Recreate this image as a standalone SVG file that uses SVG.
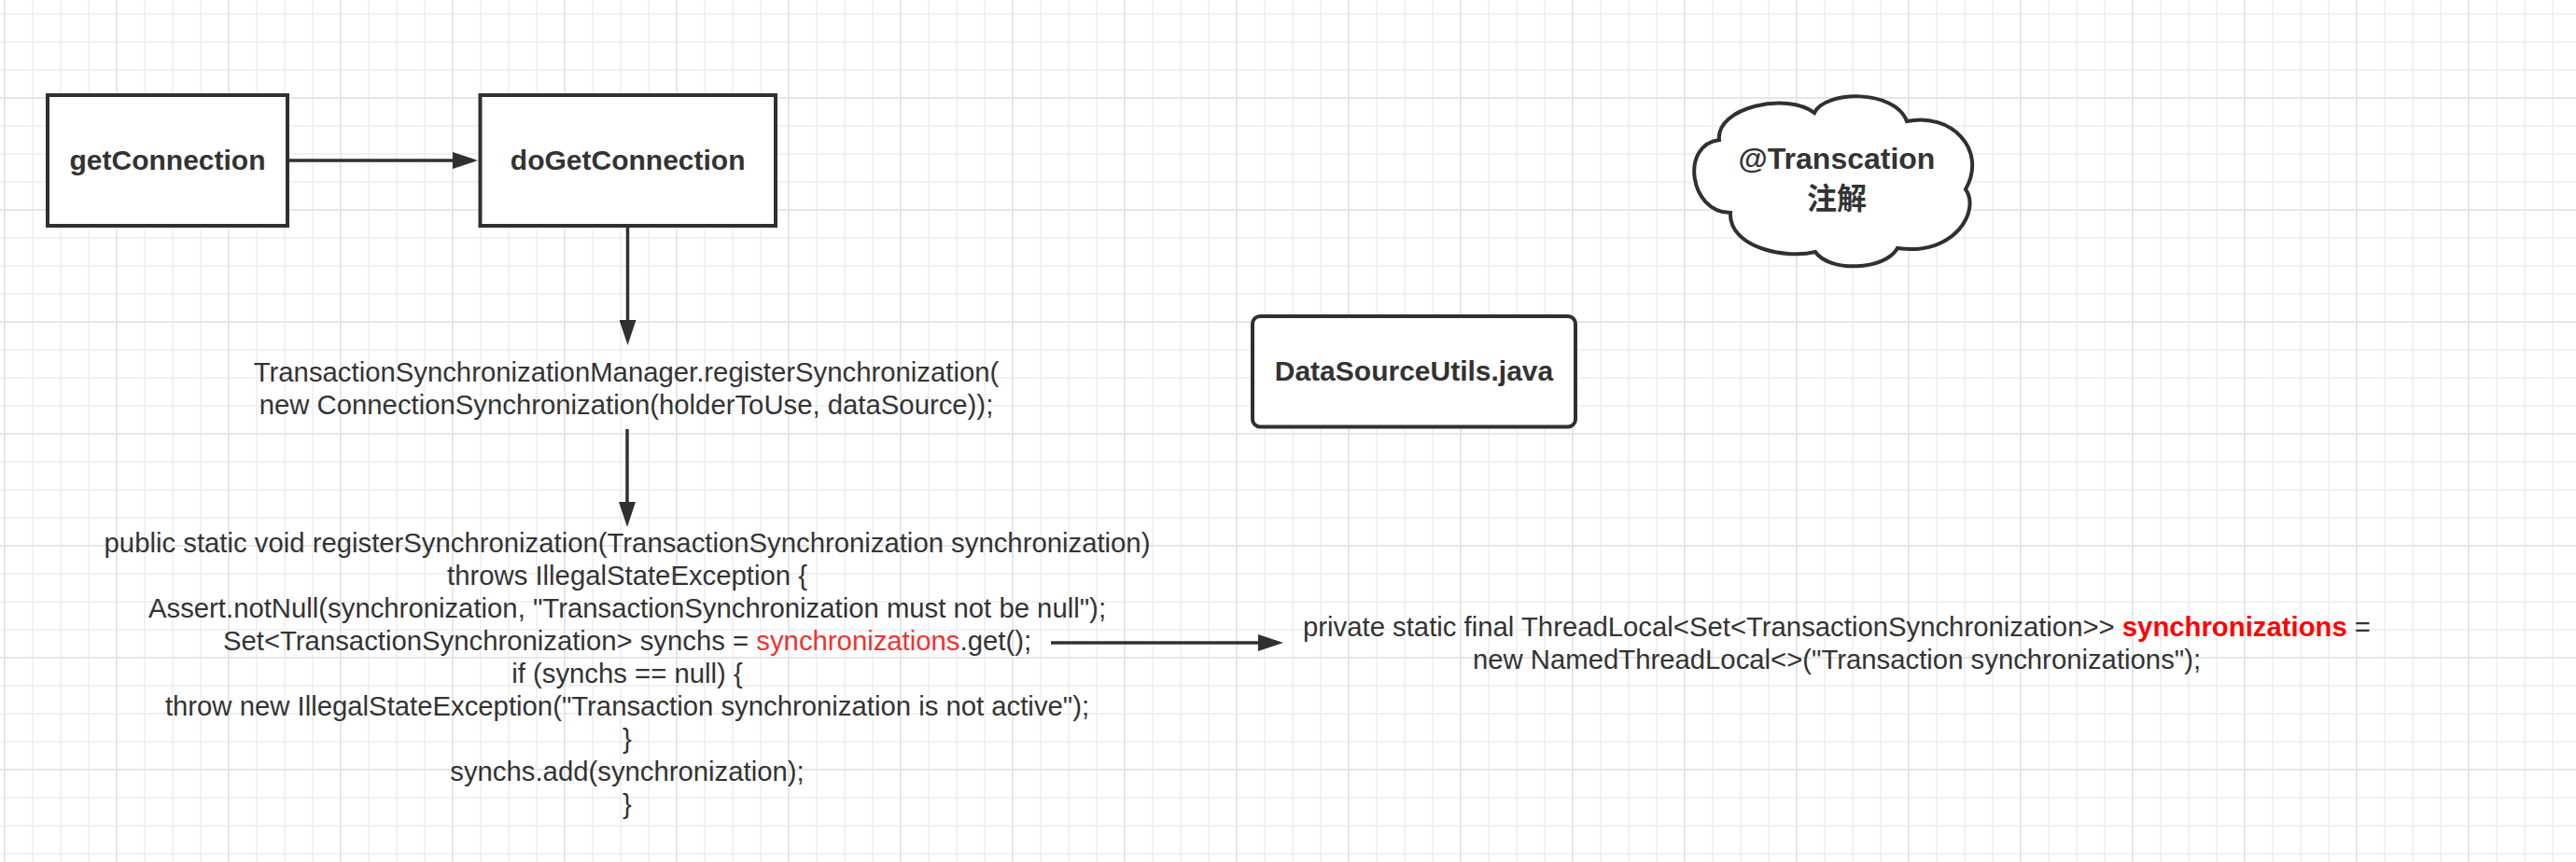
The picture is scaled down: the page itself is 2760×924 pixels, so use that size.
<svg xmlns="http://www.w3.org/2000/svg" width="2760" height="924" viewBox="0 0 2760 924">
  <defs>
    <pattern id="gridMinor" patternUnits="userSpaceOnUse" x="4" y="14" width="30" height="30">
      <rect x="0" y="0" width="2" height="30" fill="#f1f1f1"/>
      <rect x="0" y="0" width="30" height="2" fill="#f1f1f1"/>
    </pattern>
    <pattern id="gridMajor" patternUnits="userSpaceOnUse" x="4" y="104" width="120" height="120">
      <rect x="0" y="0" width="2" height="120" fill="#e6e6e6"/>
      <rect x="0" y="0" width="120" height="2" fill="#e6e6e6"/>
    </pattern>
    <marker id="arrow" markerUnits="userSpaceOnUse" markerWidth="28" markerHeight="18" refX="17" refY="9" orient="auto">
      <path d="M0,0 L27,9 L0,18 Z" fill="#303030"/>
    </marker>
    <style>
      .box { fill: #ffffff; stroke: #303030; stroke-width: 4; }
      .label { font-family: "Liberation Sans", Arial, "Noto Sans CJK SC", sans-serif; font-weight: bold; fill: #333333; text-anchor: middle; }
      .code { font-family: "Liberation Sans", Arial, sans-serif; font-size: 29.3px; fill: #333333; text-anchor: middle; }
      .red { fill: #f03232; }
      .redb { fill: #ff0000; font-weight: bold; }
      .conn { stroke: #303030; stroke-width: 3.5; fill: none; marker-end: url(#arrow); }
    </style>
  </defs>

  <rect x="0" y="0" width="2760" height="924" fill="#ffffff"/>
  <rect x="0" y="0" width="2760" height="924" fill="url(#gridMinor)"/>
  <rect x="0" y="0" width="2760" height="924" fill="url(#gridMajor)"/>

  <g id="connectors">
    <line class="conn" x1="310" y1="172" x2="502" y2="172"/>
    <line class="conn" x1="672.5" y1="244" x2="672.5" y2="360"/>
    <line class="conn" x1="672" y1="460" x2="672" y2="555"/>
    <line class="conn" x1="1126" y1="689" x2="1365" y2="689"/>
  </g>

  <g id="node-getConnection">
    <rect class="box" x="51" y="102" width="257" height="140"/>
    <text class="label" x="179.5" y="182" font-size="30">getConnection</text>
  </g>

  <g id="node-doGetConnection">
    <rect class="box" x="514.5" y="102" width="316.5" height="140"/>
    <text class="label" x="672.7" y="182" font-size="30">doGetConnection</text>
  </g>

  <g id="node-DataSourceUtils">
    <rect class="box" x="1342" y="339" width="346" height="118.5" rx="8" ry="8"/>
    <text class="label" x="1515" y="408" font-size="30">DataSourceUtils.java</text>
  </g>

  <g id="node-transaction-cloud">
    <path class="box" d="M1842,150 C1838,115 1915,98 1944,121 C1955,97 2030,95 2043,130 C2090,120 2130,160 2106,203 C2122,225 2095,275 2033,266 C2020,290 1960,292 1945,270 C1915,278 1852,266 1854,228 C1810,228 1800,155 1842,150 Z"/>
    <text class="label" x="1968" y="181" font-size="32">@Transcation</text>
    <text class="label" x="1968" y="224" font-size="32">注解</text>
  </g>

  <g id="node-registerCall">
    <text class="code" x="671" y="409">TransactionSynchronizationManager.registerSynchronization(</text>
    <text class="code" x="671" y="444">new ConnectionSynchronization(holderToUse, dataSource));</text>
  </g>

  <g id="node-registerMethod">
    <text class="code" x="672" y="592">public static void registerSynchronization(TransactionSynchronization synchronization)</text>
    <text class="code" x="672" y="627">throws IllegalStateException {</text>
    <text class="code" x="672" y="662">Assert.notNull(synchronization, "TransactionSynchronization must not be null");</text>
    <text class="code" x="672" y="697">Set&lt;TransactionSynchronization&gt; synchs = <tspan class="red">synchronizations</tspan>.get();</text>
    <text class="code" x="672" y="732">if (synchs == null) {</text>
    <text class="code" x="672" y="767">throw new IllegalStateException("Transaction synchronization is not active");</text>
    <text class="code" x="672" y="802">}</text>
    <text class="code" x="672" y="837">synchs.add(synchronization);</text>
    <text class="code" x="672" y="872">}</text>
  </g>

  <g id="node-threadLocal">
    <text class="code" x="1968" y="682">private static final ThreadLocal&lt;Set&lt;TransactionSynchronization&gt;&gt; <tspan class="redb">synchronizations</tspan> =</text>
    <text class="code" x="1968" y="717">new NamedThreadLocal&lt;&gt;("Transaction synchronizations");</text>
  </g>
</svg>
